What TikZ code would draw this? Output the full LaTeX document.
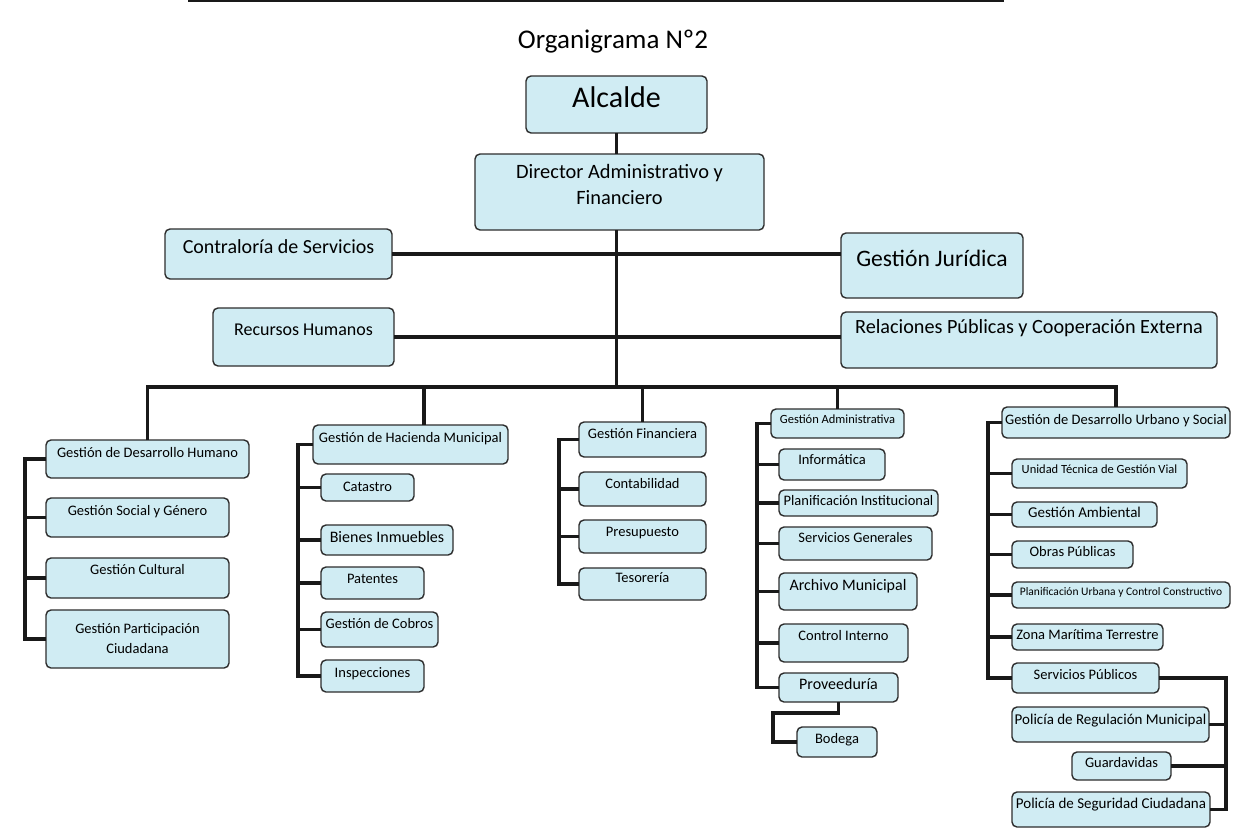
\documentclass[tikz,border=0pt]{standalone}
\usepackage{fontspec}
\setmainfont{Carlito}
\definecolor{boxfill}{RGB}{208,236,243}
\definecolor{boxline}{RGB}{45,45,45}
\definecolor{linkcol}{RGB}{25,25,25}

\begin{document}
\begin{tikzpicture}[x=1pt,y=-1pt,
  sz/.style n args={3}{minimum width=#1pt,text height=#2pt,text depth=#3pt}]
\tikzstyle{every node}+=[inner sep=0pt,outer sep=0pt]
\tikzstyle{box}=[draw=boxline,fill=boxfill,line width=1.4pt,rounded corners=5pt,anchor=north west,align=center,font=\fontsize{14.5}{17}\selectfont]
\tikzstyle{link}=[draw=linkcol,line width=3.6pt]
\useasboundingbox (0,0) rectangle (1233,833);
\fill[white] (0,0) rectangle (1233,833);
\draw[linkcol,line width=2pt] (188,1) -- (1004,1);
\node[anchor=base,font=\fontsize{27}{31}\selectfont] (title) at (613,48) {Organigrama Nº2};

\node[box,sz={181}{31}{26},font=\fontsize{30}{35}\selectfont] (alc) at (526,76) {Alcalde};
\node[box,minimum width=289pt,minimum height=76pt,font=\fontsize{20.4}{26}\selectfont] (dir) at (475,154) {Director Administrativo y\\Financiero\rule[-16pt]{0pt}{0pt}};
\node[box,sz={227}{24}{26},font=\fontsize{20}{24}\selectfont] (con) at (165,229) {Contraloría de Servicios};
\node[box,sz={182}{33}{32},font=\fontsize{23.6}{28}\selectfont] (jur) at (841,233) {Gestión Jurídica};
\node[box,sz={181}{27}{31},font=\fontsize{18}{22}\selectfont] (rrhh) at (213,308) {Recursos Humanos};
\node[box,sz={376}{21}{35},font=\fontsize{20.2}{24}\selectfont] (rpce) at (841,312) {Relaciones Públicas y Cooperación Externa};

\node[box,sz={203}{17}{21}] (gdh) at (46,440) {Gestión de Desarrollo Humano};
\node[box,sz={183}{17}{22}] (gsg) at (46,498) {Gestión Social y Género};
\node[box,sz={183}{16}{24}] (gcu) at (46,558) {Gestión Cultural};
\node[box,minimum width=183pt,minimum height=58pt,font=\fontsize{14.5}{20}\selectfont] (gpc) at (46,610) {Gestión Participación\\Ciudadana};

\node[box,sz={195}{17}{22}] (ghm) at (313,425) {Gestión de Hacienda Municipal};
\node[box,sz={93}{17}{10}] (cat) at (321,474) {Catastro};
\node[box,sz={132}{17}{13},font=\fontsize{16}{19}\selectfont] (bie) at (321,525) {Bienes Inmuebles};
\node[box,sz={103}{16}{16}] (pat) at (321,567) {Patentes};
\node[box,sz={117}{16}{19}] (cob) at (321,612) {Gestión de Cobros};
\node[box,sz={103}{17}{15}] (ins) at (321,660) {Inspecciones};

\node[box,sz={127}{16}{19}] (gfi) at (579,422) {Gestión Financiera};
\node[box,sz={127}{16}{18}] (cont) at (579,472) {Contabilidad};
\node[box,sz={127}{16}{17}] (pre) at (579,520) {Presupuesto};
\node[box,sz={127}{14}{18}] (tes) at (579,568) {Tesorería};

\node[box,sz={133}{14}{15},font=\fontsize{12.5}{15}\selectfont] (gad) at (771,409) {Gestión Administrativa};
\node[box,sz={106}{15}{16}] (inf) at (779,449) {Informática};
\node[box,sz={159}{15}{11}] (pin) at (779,490) {Planificación Institucional};
\node[box,sz={153}{15}{18}] (sge) at (779,527) {Servicios Generales};
\node[box,sz={138}{17}{20},font=\fontsize{16}{19}\selectfont] (arc) at (779,573) {Archivo Municipal};
\node[box,sz={129}{16}{22}] (cin) at (779,624) {Control Interno};
\node[box,sz={119}{16}{13},font=\fontsize{16}{19}\selectfont] (pro) at (779,673) {Proveeduría};
\node[box,sz={80}{16}{14}] (bod) at (797,727) {Bodega};

\node[box,sz={228}{17}{14}] (gdus) at (1002,407) {Gestión de Desarrollo Urbano y Social};
\node[box,sz={175}{14}{15},font=\fontsize{12.5}{15}\selectfont] (utgv) at (1012,459) {Unidad Técnica de Gestión Vial};
\node[box,sz={145}{15}{10},font=\fontsize{15}{18}\selectfont] (gam) at (1012,502) {Gestión Ambiental};
\node[box,sz={121}{15}{12}] (obp) at (1012,541) {Obras Públicas};
\node[box,sz={218}{13}{13},font=\fontsize{11.5}{14}\selectfont] (pucc) at (1012,582) {Planificación Urbana y Control Constructivo};
\node[box,sz={151}{15}{11}] (zmt) at (1012,624) {Zona Marítima Terrestre};
\node[box,sz={147}{16}{14}] (spu) at (1012,663) {Servicios Públicos};
\node[box,sz={197}{17}{18},font=\fontsize{15}{18}\selectfont] (prm) at (1012,707) {Policía de Regulación Municipal};
\node[box,sz={99}{15}{13}] (gua) at (1072,752) {Guardavidas};
\node[box,sz={198}{16}{19},font=\fontsize{15}{18}\selectfont] (psc) at (1012,792) {Policía de Seguridad Ciudadana};

\coordinate (bus) at (0,387);
\coordinate (b2) at (424,387);
\coordinate (s1) at (25,0);
\coordinate (s2) at (298,0);
\coordinate (s3) at (559,0);
\coordinate (s4) at (757,0);
\coordinate (s4b) at (773,713);
\coordinate (s5) at (988,0);
\coordinate (s5r) at (1226,0);

\draw[link] (alc.south) -- (alc.south |- dir.north);
\draw[link] (alc.south |- dir.south) -- (alc.south |- bus);
\draw[link] (con.east) -- (con.east -| jur.west);
\draw[link] (rrhh.east) -- (rrhh.east -| rpce.west);
\draw[link] (gdh.north) -- (gdh.north |- bus) -- (gdus.north |- bus) -- (gdus.north);
\draw[link] (b2) -- (b2 |- ghm.north);
\draw[link] (gfi.north |- bus) -- (gfi.north);
\draw[link] (gad.north |- bus) -- (gad.north);

\draw[link] (gdh.west) -| (s1 |- gpc.west) -- (gpc.west);
\foreach \n in {gsg,gcu}
  \draw[link] (\n.west) -- (\n.west -| s1);
\draw[link] (ghm.west) -| (s2 |- ins.west) -- (ins.west);
\foreach \n in {cat,bie,pat,cob}
  \draw[link] (\n.west) -- (\n.west -| s2);
\draw[link] (gfi.west) -| (s3 |- tes.west) -- (tes.west);
\foreach \n in {cont,pre}
  \draw[link] (\n.west) -- (\n.west -| s3);
\draw[link] (gad.west) -| (s4 |- pro.west) -- (pro.west);
\foreach \n in {inf,pin,sge,arc,cin}
  \draw[link] (\n.west) -- (\n.west -| s4);
\draw[link] (pro.south) |- (s4b) |- (bod.west);
\draw[link] (gdus.west) -| (s5 |- spu.west) -- (spu.west);
\foreach \n in {utgv,gam,obp,pucc,zmt}
  \draw[link] (\n.west) -- (\n.west -| s5);
\draw[link] (spu.east) -| (s5r |- psc.east) -- (psc.east);
\foreach \n in {prm,gua}
  \draw[link] (\n.east) -- (\n.east -| s5r);
\end{tikzpicture}
\end{document}
